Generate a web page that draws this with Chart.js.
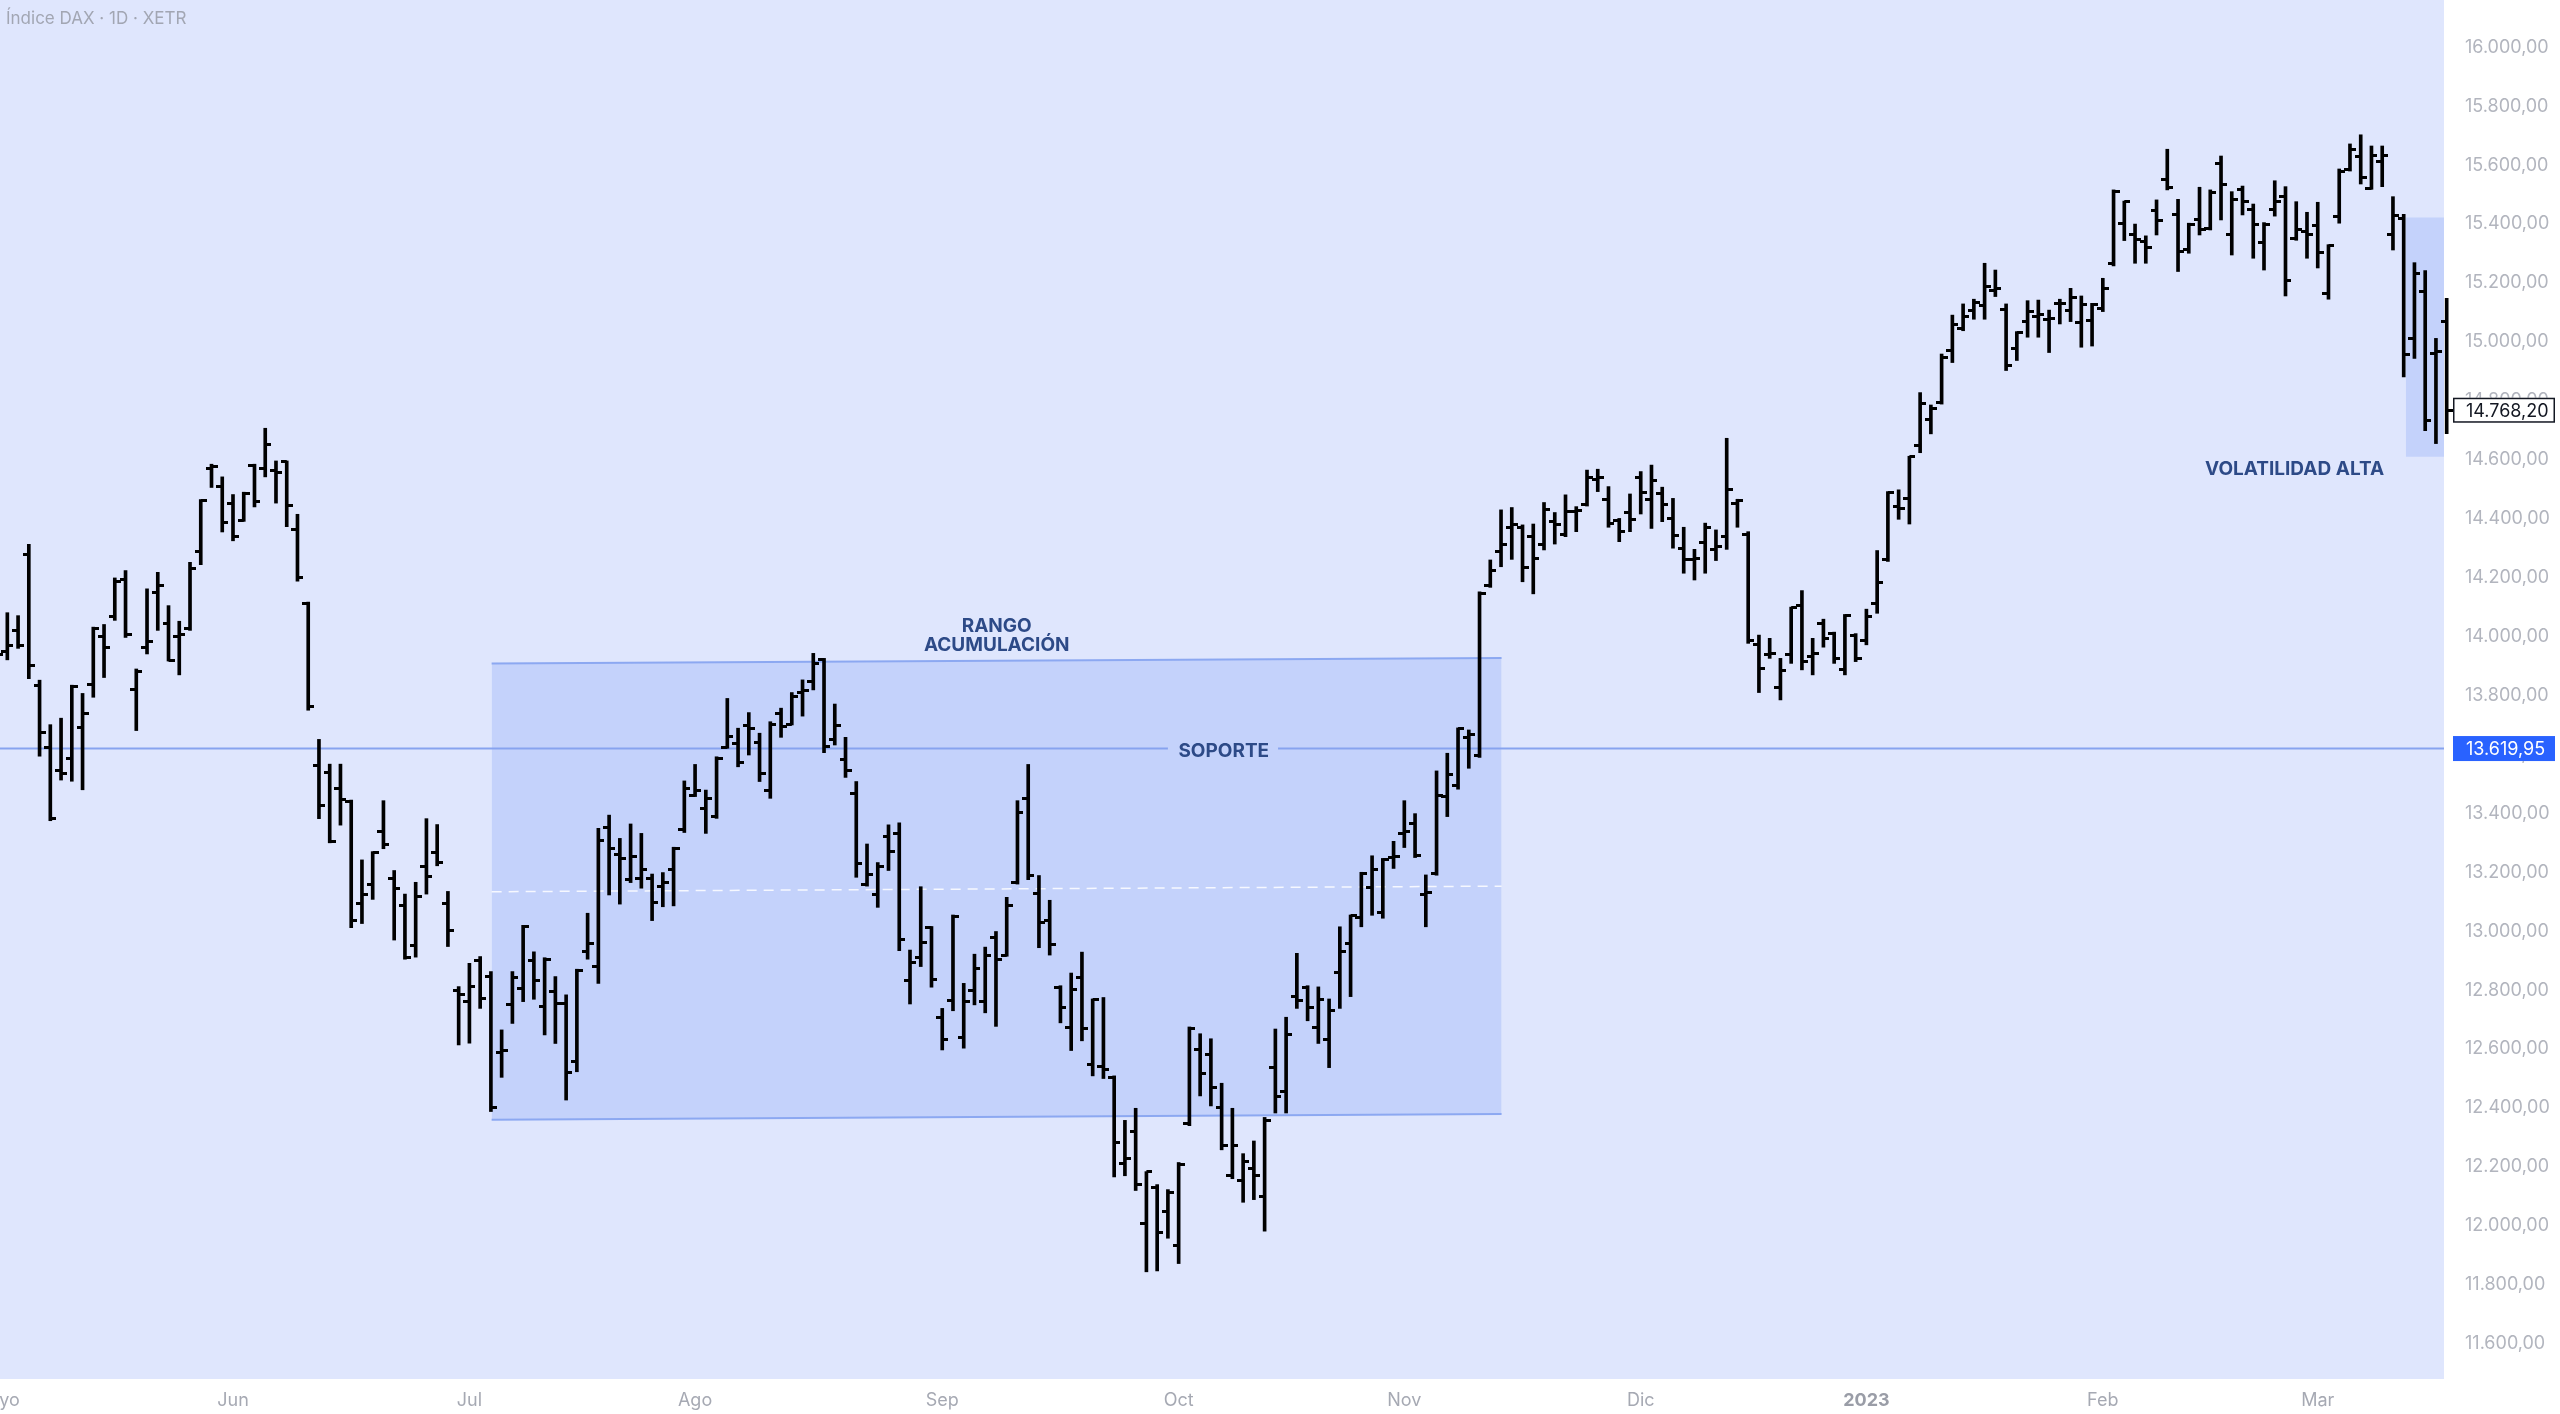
<!DOCTYPE html>
<html>
<head>
<meta charset="utf-8">
<script src="https://cdn.jsdelivr.net/npm/chart.js@4.4.1/dist/chart.umd.min.js"></script>
<style>
html,body{margin:0;padding:0;background:#fff;overflow:hidden}
canvas{display:block}
</style>
</head>
<body>
<canvas id="c" width="2560" height="1414"></canvas>
<script>
// ---------------- DATA ----------------
const dates = [
'2022-05-02','2022-05-03','2022-05-04','2022-05-05','2022-05-06','2022-05-09','2022-05-10','2022-05-11','2022-05-12','2022-05-13',
'2022-05-16','2022-05-17','2022-05-18','2022-05-19','2022-05-20','2022-05-23','2022-05-24','2022-05-25','2022-05-26','2022-05-27',
'2022-05-30','2022-05-31','2022-06-01','2022-06-02','2022-06-03','2022-06-06','2022-06-07','2022-06-08','2022-06-09','2022-06-10',
'2022-06-13','2022-06-14','2022-06-15','2022-06-16','2022-06-17','2022-06-20','2022-06-21','2022-06-22','2022-06-23','2022-06-24',
'2022-06-27','2022-06-28','2022-06-29','2022-06-30','2022-07-01','2022-07-04','2022-07-05','2022-07-06','2022-07-07','2022-07-08',
'2022-07-11','2022-07-12','2022-07-13','2022-07-14','2022-07-15','2022-07-18','2022-07-19','2022-07-20','2022-07-21','2022-07-22',
'2022-07-25','2022-07-26','2022-07-27','2022-07-28','2022-07-29','2022-08-01','2022-08-02','2022-08-03','2022-08-04','2022-08-05',
'2022-08-08','2022-08-09','2022-08-10','2022-08-11','2022-08-12','2022-08-15','2022-08-16','2022-08-17','2022-08-18','2022-08-19',
'2022-08-22','2022-08-23','2022-08-24','2022-08-25','2022-08-26','2022-08-29','2022-08-30','2022-08-31','2022-09-01','2022-09-02',
'2022-09-05','2022-09-06','2022-09-07','2022-09-08','2022-09-09','2022-09-12','2022-09-13','2022-09-14','2022-09-15','2022-09-16',
'2022-09-19','2022-09-20','2022-09-21','2022-09-22','2022-09-23','2022-09-26','2022-09-27','2022-09-28','2022-09-29','2022-09-30',
'2022-10-03','2022-10-04','2022-10-05','2022-10-06','2022-10-07','2022-10-10','2022-10-11','2022-10-12','2022-10-13','2022-10-14',
'2022-10-17','2022-10-18','2022-10-19','2022-10-20','2022-10-21','2022-10-24','2022-10-25','2022-10-26','2022-10-27','2022-10-28',
'2022-10-31','2022-11-01','2022-11-02','2022-11-03','2022-11-04','2022-11-07','2022-11-08','2022-11-09','2022-11-10','2022-11-11',
'2022-11-14','2022-11-15','2022-11-16','2022-11-17','2022-11-18','2022-11-21','2022-11-22','2022-11-23','2022-11-24','2022-11-25',
'2022-11-28','2022-11-29','2022-11-30','2022-12-01','2022-12-02','2022-12-05','2022-12-06','2022-12-07','2022-12-08','2022-12-09',
'2022-12-12','2022-12-13','2022-12-14','2022-12-15','2022-12-16','2022-12-19','2022-12-20','2022-12-21','2022-12-22','2022-12-23',
'2022-12-27','2022-12-28','2022-12-29','2022-12-30','2023-01-02','2023-01-03','2023-01-04','2023-01-05','2023-01-06','2023-01-09',
'2023-01-10','2023-01-11','2023-01-12','2023-01-13','2023-01-16','2023-01-17','2023-01-18','2023-01-19','2023-01-20','2023-01-23',
'2023-01-24','2023-01-25','2023-01-26','2023-01-27','2023-01-30','2023-01-31','2023-02-01','2023-02-02','2023-02-03','2023-02-06',
'2023-02-07','2023-02-08','2023-02-09','2023-02-10','2023-02-13','2023-02-14','2023-02-15','2023-02-16','2023-02-17','2023-02-20',
'2023-02-21','2023-02-22','2023-02-23','2023-02-24','2023-02-27','2023-02-28','2023-03-01','2023-03-02','2023-03-03','2023-03-06',
'2023-03-07','2023-03-08','2023-03-09','2023-03-10','2023-03-13','2023-03-14','2023-03-15','2023-03-16','2023-03-17'
];

const opens = [
13990,13950,14021,14278,13834,13624,13547,13587,13690,13837,
14000,14068,14195,13821,13964,14150,14044,14000,14028,14289,
14569,14509,14450,14395,14580,14569,14565,14593,14365,14111,
13563,13540,13483,13440,13093,13160,13337,13180,13086,12952,
13219,13266,13093,12799,12760,12900,12846,12588,12750,12806,
12900,12744,12795,12755,12557,12931,12880,13353,13259,13176,
13180,13180,13151,13210,13346,13462,13417,13391,13624,13638,
13697,13640,13477,13740,13703,13810,13847,13923,13649,13583,
13466,13157,13126,13323,13332,12832,12912,13013,12708,12764,
12640,12799,12760,12980,12919,13167,13452,13127,13035,12809,
12674,12843,12546,12540,12503,12211,12319,12007,12129,12047,
11933,12346,12598,12582,12402,12170,12154,12196,12099,12539,
12456,12778,12809,12674,12631,12860,12958,13048,13149,13064,
13250,13330,13366,13125,13195,13457,13496,13658,13595,14172,
14288,14371,14370,14341,14311,14390,14345,14424,14447,14534,
14466,14393,14421,14540,14464,14486,14401,14300,14262,14319,
14294,14339,14450,14345,13972,13938,13828,13938,14107,13934,
14043,14011,13887,14002,13988,14111,14262,14443,14469,14647,
14737,14794,14970,15046,15106,15125,15176,15111,14978,15069,
15088,15077,15131,15108,15065,15072,15114,15265,15403,15363,
15340,15446,15552,15434,15314,15414,15386,15606,15366,15516,
15450,15337,15448,15495,15352,15374,15394,15165,15425,15586,
15631,15521,15612,15366,15420,15011,15171,14960,15069
];

const highs = [
14040,14081,14071,14313,13852,13701,13723,13835,13807,14032,
14041,14199,14224,13890,14162,14218,14105,14052,14252,14465,
14585,14542,14482,14490,14585,14707,14596,14596,14415,14117,
13651,13567,13567,13445,13242,13270,13443,13206,13126,13166,
13382,13362,13135,12812,12891,12914,12863,12665,12863,13020,
12930,12910,12846,12784,12871,13061,13349,13394,13315,13364,
13332,13194,13199,13285,13510,13566,13479,13592,13790,13689,
13742,13672,13711,13757,13810,13853,13943,13926,13771,13658,
13508,13296,13233,13361,13368,12936,13151,13016,12738,13055,
12823,12922,12946,12999,13115,13443,13566,13189,13105,12815,
12858,12929,12770,12775,12509,12358,12399,12184,12140,12123,
12215,12675,12652,12635,12484,12399,12245,12288,12368,12668,
12708,12925,12815,12811,12770,13015,13055,13200,13256,13247,
13305,13443,13399,13191,13544,13604,13690,13683,14152,14260,
14430,14438,14379,14382,14455,14421,14481,14441,14565,14568,
14509,14401,14484,14560,14582,14507,14469,14371,14296,14385,
14362,14673,14466,14356,14005,13994,13926,14100,14156,13994,
14059,14015,14075,14010,14093,14292,14492,14498,14612,14828,
14786,14959,15091,15129,15145,15267,15244,15129,15035,15140,
15142,15108,15145,15182,15156,15131,15216,15516,15478,15400,
15360,15482,15654,15484,15403,15525,15516,15631,15510,15529,
15468,15405,15547,15527,15476,15440,15474,15330,15587,15672,
15703,15665,15665,15493,15433,15269,15242,15012,15148
];

const lows = [
13820,13921,13960,13857,13594,13375,13513,13509,13480,13794,
13861,14055,13997,13681,13941,14021,13917,13870,14021,14244,
14506,14355,14325,14391,14440,14542,14453,14373,14188,13750,
13382,13300,13360,13012,13026,13108,13280,12970,12905,12912,
13126,13222,12948,12614,12620,12738,12388,12504,12687,12761,
12769,12648,12619,12427,12523,12905,12823,13123,13092,13165,
13146,13036,13083,13086,13335,13457,13332,13383,13621,13558,
13598,13508,13451,13658,13700,13730,13819,13606,13632,13522,
13183,13153,13081,13206,12934,12753,12880,12810,12597,12730,
12603,12750,12723,12677,12915,13160,13175,12944,12919,12689,
12595,12628,12509,12500,12166,12170,12120,11844,11847,11958,
11872,12340,12441,12407,12258,12160,12080,12089,11982,12383,
12383,12738,12696,12619,12537,12738,12778,13015,13054,13044,
13213,13284,13250,13015,13190,13389,13482,13553,13590,14167,
14237,14262,14186,14145,14294,14314,14339,14356,14443,14492,
14371,14322,14356,14416,14367,14390,14300,14215,14192,14215,
14258,14296,14371,13977,13810,13926,13785,13909,13887,13870,
13964,13909,13870,13915,13972,14079,14255,14398,14382,14624,
14688,14789,14930,15038,15077,15077,15154,14903,14937,15016,
15016,14964,15061,15069,14982,14986,15103,15258,15344,15267,
15267,15363,15516,15239,15301,15363,15380,15414,15295,15431,
15284,15244,15427,15156,15345,15284,15251,15145,15403,15580,
15536,15518,15527,15312,14881,14944,14699,14655,14689
];

const closes = [
13939,13970,13971,13902,13674,13381,13535,13829,13740,14027,
13964,14186,14008,13882,13982,14175,13919,14008,14232,14462,
14576,14388,14340,14485,14460,14653,14556,14446,14199,13762,
13427,13304,13447,13038,13126,13266,13293,13144,12912,13118,
13186,13232,13003,12784,12813,12773,12401,12595,12843,13015,
12832,12905,12756,12519,12865,12959,13308,13282,13246,13254,
13210,13097,13166,13282,13484,13479,13449,13587,13662,13574,
13688,13535,13700,13694,13795,13817,13910,13626,13697,13544,
13230,13194,13221,13271,12971,12893,12961,12835,12631,13050,
12761,12872,12916,12904,13088,13402,13188,13028,12956,12741,
12803,12671,12767,12532,12284,12228,12140,12183,11976,12114,
12209,12671,12517,12471,12273,12272,12220,12172,12356,12438,
12649,12766,12741,12767,12731,12931,13052,13195,13211,13243,
13253,13338,13257,13130,13460,13533,13688,13666,14146,14224,
14313,14379,14234,14266,14431,14380,14423,14428,14540,14541,
14383,14356,14397,14490,14529,14448,14343,14261,14265,14371,
14306,14498,14461,13987,13893,13943,13885,14098,13914,13941,
13995,13926,14071,13924,14069,14182,14490,14436,14610,14792,
14775,14948,15058,15086,15134,15187,15181,14920,15033,15103,
15094,15081,15132,15150,15126,15128,15181,15509,15476,15346,
15320,15412,15524,15308,15397,15380,15507,15534,15482,15477,
15398,15400,15475,15210,15381,15365,15305,15328,15578,15654,
15559,15632,15633,15428,14959,15233,14735,14967,14768.20
];

const monthTickLabels = ['Mayo','Jun','Jul','Ago','Sep','Oct','Nov','Dic','2023','Feb','Mar'];
const monthTickDates  = ['2022-05-02','2022-06-01','2022-07-01','2022-08-01','2022-09-01','2022-10-03',
                         '2022-11-01','2022-12-01','2023-01-02','2023-02-01','2023-03-01'];
const priceTicks = [11600,11800,12000,12200,12400,12600,12800,13000,13200,13400,13600,13800,
                    14000,14200,14400,14600,14800,15000,15200,15400,15600,15800,16000];

const supportLevel = 13619.95;
// accumulation channel (x in bar-index units, y in index points)
const channelX      = [46.07, 140.05];
const channelTop    = [13909, 13927];
const channelBottom = [12360, 12380];
const channelMid    = [13134, 13153];
const supportGap    = [109.0, 119.25];
// high-volatility box
const volX   = [224.2, 232];
const volTop = 15422;
const volBot = 14610;

// ---------------- HELPERS ----------------
const FONT = 'Inter, "Noto Sans", "Liberation Sans", sans-serif';
function fmtPrice(v){
  const s = Number(v).toFixed(2);
  let [a,b] = s.split('.');
  a = a.replace(/\B(?=(\d{3})+(?!\d))/g,'.');
  return a + ',' + b;
}
function tickImage(side){
  const c = document.createElement('canvas');
  c.width = 12; c.height = 3;
  const g = c.getContext('2d');
  g.fillStyle = '#000';
  if (side === 'L') g.fillRect(0,0,6,3); else g.fillRect(6,0,6,3);
  return c;
}
const openImg = tickImage('L');
const closeImg = tickImage('R');
const idx = dates.map((d,i)=>i);
const monthTickIdx = monthTickDates.map(d => dates.indexOf(d));

const X_MIN = 0.318, X_MAX = 227.75;
const Y_MIN = 11480.2, Y_MAX = 16160.5;

const barClip = {left: 10, top: 0, right: 12, bottom: 0};

const datasets = [
  { // 0 vol box top
    type:'line', order: 9,
    data: volX.map(x=>({x, y: volTop})),
    borderWidth: 0, borderColor: 'rgba(0,0,0,0)', pointRadius: 0, fill: false
  },
  { // 1 vol box bottom
    type:'line', order: 9,
    data: volX.map(x=>({x, y: volBot})),
    borderWidth: 0, borderColor: 'rgba(0,0,0,0)', pointRadius: 0,
    fill: '-1', backgroundColor: '#c4d2fb'
  },
  { // 2 channel top
    type:'line', order: 8,
    data: channelX.map((x,i)=>({x, y: channelTop[i]})),
    borderWidth: 2, borderColor: '#8ca8f1', pointRadius: 0, fill: false
  },
  { // 3 channel bottom
    type:'line', order: 8,
    data: channelX.map((x,i)=>({x, y: channelBottom[i]})),
    borderWidth: 2, borderColor: '#8ca8f1', pointRadius: 0,
    fill: '-1', backgroundColor: '#c4d2fb'
  },
  { // 4 channel mid dashed
    type:'line', order: 7,
    data: channelX.map((x,i)=>({x, y: channelMid[i]})),
    borderWidth: 1.5, borderColor: 'rgba(255,255,255,0.85)', borderDash: [10,7],
    pointRadius: 0, fill: false
  },
  { // 5 support line
    type:'line', order: 6,
    data: [{x:-2, y:supportLevel},{x:supportGap[0], y:supportLevel},{x:supportGap[0]+0.01, y:null},
           {x:supportGap[1], y:supportLevel},{x:235, y:supportLevel}],
    borderWidth: 2, borderColor: '#87a3ef', pointRadius: 0, fill: false, spanGaps: false
  },
  { // 6 high-low bars
    type:'bar', order: 1, clip: barClip,
    data: idx.map(i=>({x:i, y:[lows[i], highs[i]]})),
    backgroundColor: '#000', borderWidth: 0, barThickness: 3, grouped: false
  },
  { // 7 opens
    type:'scatter', order: 0, clip: barClip,
    data: idx.map(i=>({x:i, y:opens[i]})),
    pointStyle: openImg, pointRadius: 6, pointBorderWidth: 0, pointHoverRadius: 6
  },
  { // 8 closes
    type:'scatter', order: 0, clip: barClip,
    data: idx.map(i=>({x:i, y:closes[i]})),
    pointStyle: closeImg, pointRadius: 6, pointBorderWidth: 0, pointHoverRadius: 6
  }
];

const bgPlugin = {
  id: 'bg',
  beforeDraw(chart){
    const {ctx, chartArea:a} = chart;
    ctx.save();
    ctx.fillStyle = '#ffffff';
    ctx.fillRect(0,0,chart.width,chart.height);
    ctx.fillStyle = '#dfe6fd';
    ctx.fillRect(a.left, a.top, a.right-a.left, a.bottom-a.top);
    ctx.restore();
  }
};

const annoPlugin = {
  id: 'anno',
  afterDatasetsDraw(chart){
    const {ctx} = chart;
    const xs = chart.scales.x, ys = chart.scales.y;
    ctx.save();
    ctx.fillStyle = '#2d4a87';
    ctx.font = 'bold 19px ' + FONT;
    ctx.textAlign = 'center';
    ctx.textBaseline = 'middle';
    const rx = xs.getPixelForValue(93.07);
    ctx.fillText('RANGO', rx, ys.getPixelForValue(14036));
    ctx.fillText('ACUMULACIÓN', rx, ys.getPixelForValue(13971));
    ctx.fillText('SOPORTE', xs.getPixelForValue(114.2), ys.getPixelForValue(supportLevel) + 3);
    ctx.fillText('VOLATILIDAD ALTA', xs.getPixelForValue(213.84), ys.getPixelForValue(14569));
    ctx.restore();
  },
  afterDraw(chart){
    const {ctx} = chart;
    const ys = chart.scales.y;
    ctx.save();
    // title
    ctx.font = '17px ' + FONT;
    ctx.fillStyle = '#a2a6b3';
    ctx.textAlign = 'left';
    ctx.textBaseline = 'middle';
    ctx.fillText('Índice DAX · 1D · XETR', 6, 19);
    // price tags
    const tag = (val, bg, fg, border) => {
      const y = ys.getPixelForValue(val);
      const x0 = 2453, w = 102, h = 25;
      ctx.fillStyle = bg;
      ctx.fillRect(x0, y - h/2, w, h);
      if (border){ ctx.strokeStyle = border; ctx.lineWidth = 1.5; ctx.strokeRect(x0+0.75, y - h/2 + 0.75, w-1.5, h-1.5); }
      ctx.fillStyle = fg;
      ctx.font = '18px ' + FONT;
      ctx.textAlign = 'left';
      ctx.textBaseline = 'middle';
      ctx.fillText(fmtPrice(val), 2466, y + 1);
    };
    tag(supportLevel, '#2962ff', '#ffffff', null);
    tag(closes[closes.length-1], '#ffffff', '#131722', '#131722');
    ctx.restore();
  }
};

Chart.defaults.font.family = FONT;

new Chart(document.getElementById('c'), {
  type: 'bar',
  data: { datasets },
  options: {
    responsive: false,
    devicePixelRatio: 1,
    animation: false,
    events: [],
    layout: { padding: 0, autoPadding: false },
    plugins: { legend: {display:false}, tooltip: {enabled:false} },
    scales: {
      x: {
        type: 'linear', offset: false, min: X_MIN, max: X_MAX,
        grid: { display: false, drawTicks: false },
        border: { display: false },
        afterBuildTicks(s){ s.ticks = monthTickIdx.map(v=>({value:v})); },
        afterFit(s){ s.height = 35; s.paddingLeft = 0; s.paddingRight = 0; },
        ticks: {
          autoSkip: false, maxRotation: 0, padding: 11,
          color: (c) => (c.tick && c.index === 8) ? '#9a9da7' : '#a6a9b3',
          font: (c) => ({ size: 18, family: FONT, weight: (c.index === 8 ? 'bold' : 'normal') }),
          callback: (v, i) => monthTickLabels[i]
        }
      },
      y: {
        type: 'linear', position: 'right', min: Y_MIN, max: Y_MAX,
        grid: { display: false, drawTicks: false },
        border: { display: false },
        afterBuildTicks(s){ s.ticks = priceTicks.map(v=>({value:v})); },
        afterFit(s){ s.width = 116; s.paddingTop = 0; s.paddingBottom = 0; },
        ticks: {
          padding: 21, color: '#b2b5be', font: { size: 18, family: FONT },
          callback: (v) => fmtPrice(v)
        }
      }
    }
  },
  plugins: [bgPlugin, annoPlugin]
});
</script>
</body>
</html>
